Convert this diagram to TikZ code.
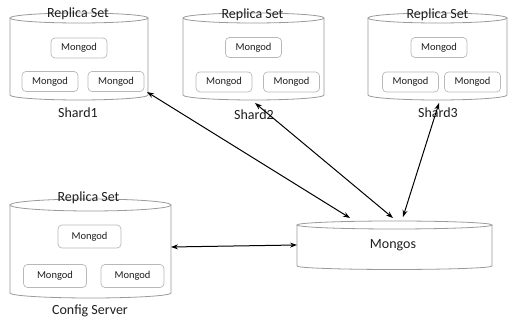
\documentclass[tikz,border=0pt]{standalone}
\usepackage{fontspec}
\setmainfont{Carlito}
\usetikzlibrary{arrows.meta,calc}
\definecolor{cylline}{HTML}{9A9A9A}
\definecolor{boxline}{HTML}{B8B8B8}
\definecolor{ink}{HTML}{1E1E1E}
% Outline of a vertical cylinder around a placeholder node:
% #1 node name, #2 half width, #3 top ellipse y radius, #4 bottom ellipse y radius
\newcommand{\dbcylinder}[4]{%
  \draw[cyl] (#1.north west) -- (#1.south west)
    arc[start angle=180,end angle=360,x radius=#2,y radius=#4] -- (#1.north east);
  \draw[cyl] (#1.north) ellipse[x radius=#2,y radius=#3];
}
\begin{document}
\begin{tikzpicture}[x=1pt,y=1pt,
  cyl/.style={draw=cylline,line width=0.8pt},
  cylbody/.style={inner sep=0pt,outer sep=0pt},
  mongod/.style={draw=boxline,line width=0.7pt,rounded corners=4pt,
    minimum width=56pt,minimum height=20pt,inner sep=0pt,text=ink,
    font=\fontsize{10.5}{12}\selectfont},
  cfgmongod/.style={mongod,minimum width=63pt,minimum height=23pt},
  label/.style={text=ink,inner sep=0pt,font=\fontsize{14}{16}\selectfont},
  link/.style={line width=1pt,{Stealth[length=7pt,width=5pt]}-{Stealth[length=7pt,width=5pt]}}]
\useasboundingbox (0,0) rectangle (509,320);

% cylinder bodies (top ellipse centre = north, bottom ellipse centre = south)
\node[cylbody,minimum width=138pt,minimum height=77pt] (s1) at (79,263.5) {};
\node[cylbody,minimum width=141pt,minimum height=77pt] (s2) at (253.5,263.5) {};
\node[cylbody,minimum width=139pt,minimum height=77pt] (s3) at (437.5,263.5) {};
\node[cylbody,minimum width=161pt,minimum height=88pt] (cfg) at (90.5,71) {};
\node[cylbody,minimum width=195pt,minimum height=41pt] (ms) at (394.5,74.5) {};

\dbcylinder{s1}{69}{5}{5}
\dbcylinder{s2}{70.5}{5}{5}
\dbcylinder{s3}{69.5}{5}{5}
\dbcylinder{cfg}{80.5}{6}{5}
\dbcylinder{ms}{97.5}{4}{3.5}

% replica set members
\node[mongod] (s1a) at (79,272) {Mongod};
\node[mongod] (s1b) at (50,238.5) {Mongod};
\node[mongod] (s1c) at (116,238.5) {Mongod};
\node[mongod] (s2a) at (253.5,272.5) {Mongod};
\node[mongod] (s2b) at (224,238) {Mongod};
\node[mongod] (s2c) at (291.5,238) {Mongod};
\node[mongod] (s3a) at (439,272.5) {Mongod};
\node[mongod] (s3b) at (410.5,238) {Mongod};
\node[mongod] (s3c) at (472.5,238) {Mongod};
\node[cfgmongod] (cfa) at (89.5,83.5) {Mongod};
\node[cfgmongod] (cfb) at (55,44) {Mongod};
\node[cfgmongod] (cfc) at (132.5,44) {Mongod};

% titles and captions
\node[label] (t1) at (78,306) {Replica Set};
\node[label] (t2) at (252.5,305) {Replica Set};
\node[label] (t3) at (437.5,305) {Replica Set};
\node[label] (t4) at (88.5,122) {Replica Set};
\node[label] (c1) at (78,207) {Shard1};
\node[label] (c2) at (254,205) {Shard2};
\node[label] (c3) at (438,207) {Shard3};
\node[label] (c4) at (90,9) {Config Server};
\node[label] (mt) at (393,75) {Mongos};

% links to the router
\draw[link] ([shift={(-1,3)}]s1.south east) -- ([shift={(-44.5,7)}]ms.north);
\draw[link] ([shift={(1.5,-8)}]s2.south) -- ([shift={(-1.5,7)}]ms.north);
\draw[link] ([shift={(1.5,-8)}]s3.south) -- ([shift={(8.5,8)}]ms.north);
\draw[link] ([shift={(0,2)}]cfg.east) -- ([shift={(0,0.5)}]ms.west);
\end{tikzpicture}
\end{document}
